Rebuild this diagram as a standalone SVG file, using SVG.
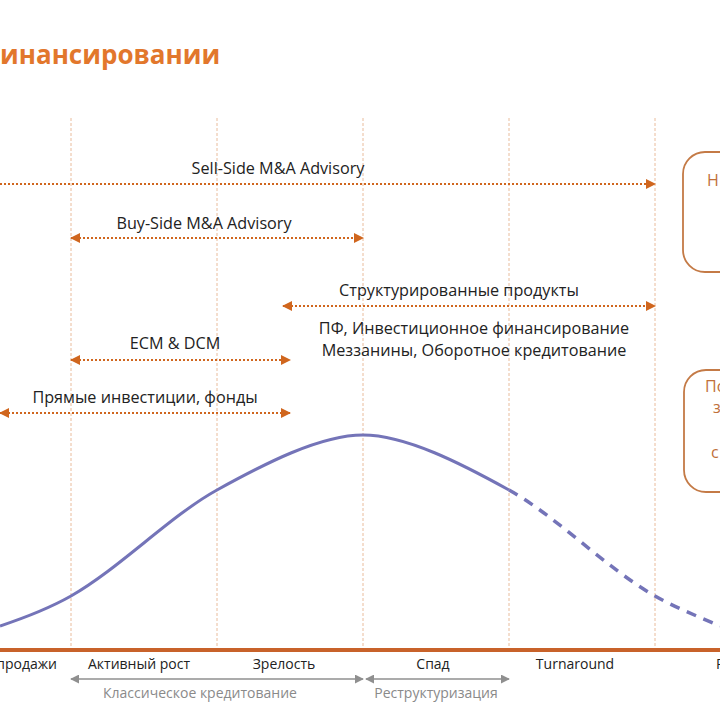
<svg xmlns="http://www.w3.org/2000/svg" width="720" height="720" viewBox="0 0 720 720">
<defs>
<style>
.t{font-family:"Open Sans","Liberation Sans",sans-serif;font-size:16.2px;fill:#222}
.b{font-family:"Open Sans","Liberation Sans",sans-serif;font-size:14px;fill:#222}
.g{font-family:"Open Sans","Liberation Sans",sans-serif;font-size:14px;fill:#8a8a8a}
.bx{font-family:"Open Sans","Liberation Sans",sans-serif;font-size:16px;fill:#c0703a}
.vl{stroke:#e9bc9c;stroke-width:1;stroke-dasharray:3 2;fill:none}
.oa{stroke:#d0661e;stroke-width:2;stroke-dasharray:2 2;fill:none;marker-start:url(#oh);marker-end:url(#oh)}
.oe{stroke:#d0661e;stroke-width:2;stroke-dasharray:2 2;fill:none;marker-end:url(#oh)}
.ga{stroke:#8f8f8f;stroke-width:1.5;fill:none;marker-start:url(#gh);marker-end:url(#gh)}
.box{fill:#fff;stroke:#c47a46;stroke-width:1.8}
</style>
<marker id="oh" viewBox="0 0 10 10" refX="9" refY="5" markerWidth="5" markerHeight="5" orient="auto-start-reverse" markerUnits="strokeWidth">
<path d="M0,0 L10,5 L0,10 z" fill="#d0661e"/>
</marker>
<marker id="gh" viewBox="0 0 10 10" refX="9" refY="5" markerWidth="6" markerHeight="6" orient="auto-start-reverse" markerUnits="strokeWidth">
<path d="M0,0 L10,5 L0,10 z" fill="#8f8f8f"/>
</marker>
</defs>
<rect width="720" height="720" fill="#fff"/>
<text x="0" y="64" font-family="'Open Sans','Liberation Sans',sans-serif" font-size="26" font-weight="bold" fill="#e2772c">инансировании</text>
<g id="grid">
<line class="vl" x1="71" y1="118" x2="71" y2="648"/>
<line class="vl" x1="217" y1="118" x2="217" y2="648"/>
<line class="vl" x1="363" y1="118" x2="363" y2="648"/>
<line class="vl" x1="509" y1="118" x2="509" y2="648"/>
<line class="vl" x1="655" y1="118" x2="655" y2="648"/>
</g>
<g id="curve">
<path d="M0,626 C24,618 48,609 71,596 C120,568 170,516 217,490 C264,464 320,435 363,435 C406,435 462,464 509,490" fill="none" stroke="#7474b8" stroke-width="3"/>
<path d="M509,490 C556,516 606,568 655,596 C678,609 702,618 720,626" fill="none" stroke="#7474b8" stroke-width="3.5" stroke-dasharray="10 8"/>
</g>
<g id="connectors">
<line class="oe" x1="0" y1="184" x2="655" y2="184"/>
<line class="oa" x1="71" y1="238" x2="363" y2="238"/>
<line class="oa" x1="283" y1="306" x2="655" y2="306"/>
<line class="oa" x1="71" y1="360" x2="290" y2="360"/>
<line class="oa" x1="0" y1="413" x2="290" y2="413"/>
<line class="ga" x1="71" y1="679" x2="363" y2="679"/>
<line class="ga" x1="366" y1="679" x2="509" y2="679"/>
</g>
<g id="labels">
<text class="t" x="278" y="174" text-anchor="middle">Sell-Side M&amp;A Advisory</text>
<text class="t" x="204" y="229" text-anchor="middle">Buy-Side M&amp;A Advisory</text>
<text class="t" x="459" y="296" text-anchor="middle">Структурированные продукты</text>
<text class="t" x="474" y="334" text-anchor="middle">ПФ, Инвестиционное финансирование</text>
<text class="t" x="474" y="356" text-anchor="middle">Меззанины, Оборотное кредитование</text>
<text class="t" x="175" y="349" text-anchor="middle">ECM &amp; DCM</text>
<text class="t" x="145" y="403" text-anchor="middle">Прямые инвестиции, фонды</text>
</g>
<g id="box1">
<rect class="box" x="683" y="152" width="70" height="120" rx="22"/>
<text class="bx" x="707" y="186">Н</text>
</g>
<g id="box2">
<rect class="box" x="684" y="370" width="70" height="122" rx="22"/>
<text class="bx" x="705" y="392">По</text>
<text class="bx" x="713" y="413">з</text>
<text class="bx" x="711" y="458">с</text>
</g>
<line x1="0" y1="650" x2="720" y2="650" stroke="#c8622a" stroke-width="4"/>
<g id="stages">
<text class="b" x="57" y="669" text-anchor="end">продажи</text>
<text class="b" x="139" y="669" text-anchor="middle">Активный рост</text>
<text class="b" x="284" y="669" text-anchor="middle">Зрелость</text>
<text class="b" x="433" y="669" text-anchor="middle">Спад</text>
<text class="b" x="575" y="669" text-anchor="middle">Turnaround</text>
<text class="b" x="716" y="669">Р</text>
<text class="g" x="200" y="698" text-anchor="middle">Классическое кредитование</text>
<text class="g" x="436" y="698" text-anchor="middle">Реструктуризация</text>
</g>
</svg>
